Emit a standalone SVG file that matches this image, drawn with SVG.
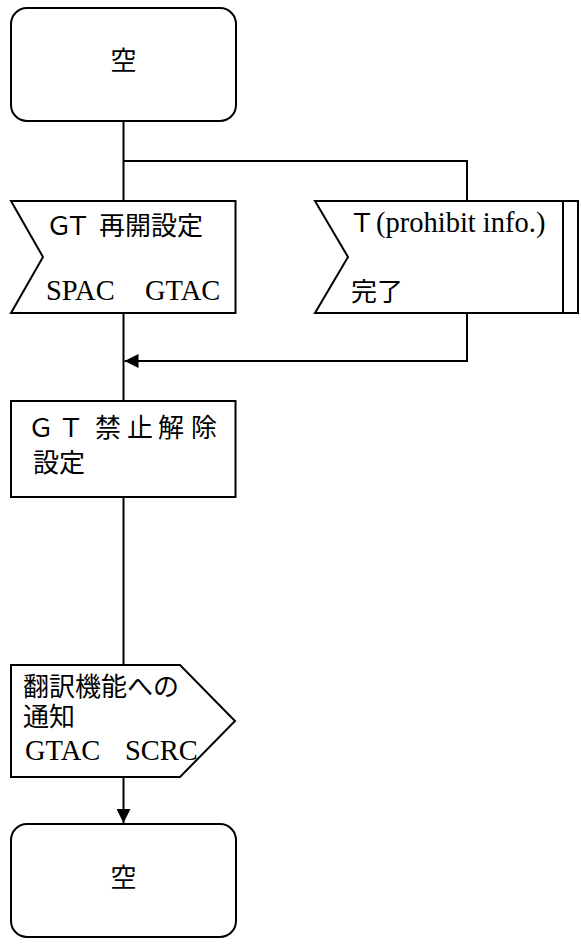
<svg xmlns="http://www.w3.org/2000/svg" width="581" height="945" viewBox="0 0 581 945">
<style>
.s{fill:#fff;stroke:#000;stroke-width:2}
.l{fill:none;stroke:#000;stroke-width:2}
.j{font-family:"Noto Sans CJK JP","Noto Sans",sans-serif;font-size:26px;fill:#000}
.k{font-family:"Liberation Sans","Noto Sans CJK JP",sans-serif;font-size:26px;fill:#000}
.r{font-family:"Liberation Serif",serif;font-size:28.5px;fill:#000}
</style>
<defs>
<marker id="ah" markerWidth="14" markerHeight="14" refX="14" refY="7" orient="auto" markerUnits="userSpaceOnUse" viewBox="0 0 14 14">
<path d="M0,0 L14,7 L0,14 Z" fill="#000"/>
</marker>
</defs>
<g id="connectors">
<path class="l" d="M123.5,121 V201"/>
<path class="l" d="M123.5,161 H467 V201"/>
<path class="l" d="M123.5,313 V401"/>
<path class="l" d="M467,313 V361 H124.5" marker-end="url(#ah)"/>
<path class="l" d="M123.5,497 V665"/>
<path class="l" d="M123.5,777 V823" marker-end="url(#ah)"/>
</g>
<g id="start">
<rect class="s" x="11" y="8" width="225" height="113" rx="16"/>
<text class="j" x="123.5" y="70" text-anchor="middle">空</text>
</g>
<g id="gt-restart">
<path class="s" d="M11,201 H235.5 V313 H11 L43,257 Z"/>
<text class="j" x="46 65 99 125 151 177" y="235">ＧＴ再開設定</text>
<text class="r" x="46" y="300">SPAC</text>
<text class="r" x="145" y="300">GTAC</text>
</g>
<g id="timer">
<path class="s" d="M315,201 H578 V313 H315 L348,257 Z"/>
<path class="l" d="M563,201 V313"/>
<text class="j" x="349" y="232">Ｔ</text>
<text class="r" x="376" y="232">(prohibit info.)</text>
<text class="j" x="351" y="301">完了</text>
</g>
<g id="gt-unprohibit">
<rect class="s" x="11" y="401" width="224.5" height="96"/>
<text class="j"><tspan x="28 58 95 127 158 191" y="437">ＧＴ禁止解除</tspan><tspan x="33" y="472">設定</tspan></text>
</g>
<g id="notify">
<path class="s" d="M11,665 H180 L235,721 L180,777 H11 Z"/>
<text class="k" x="23" y="696">翻訳機能への</text>
<text class="k" x="23" y="726">通知</text>
<text class="r" x="25" y="760">GTAC</text>
<text class="r" x="125" y="760">SCRC</text>
</g>
<g id="end">
<rect class="s" x="11" y="824" width="225" height="113" rx="16"/>
<text class="j" x="123.5" y="887" text-anchor="middle">空</text>
</g>
</svg>
